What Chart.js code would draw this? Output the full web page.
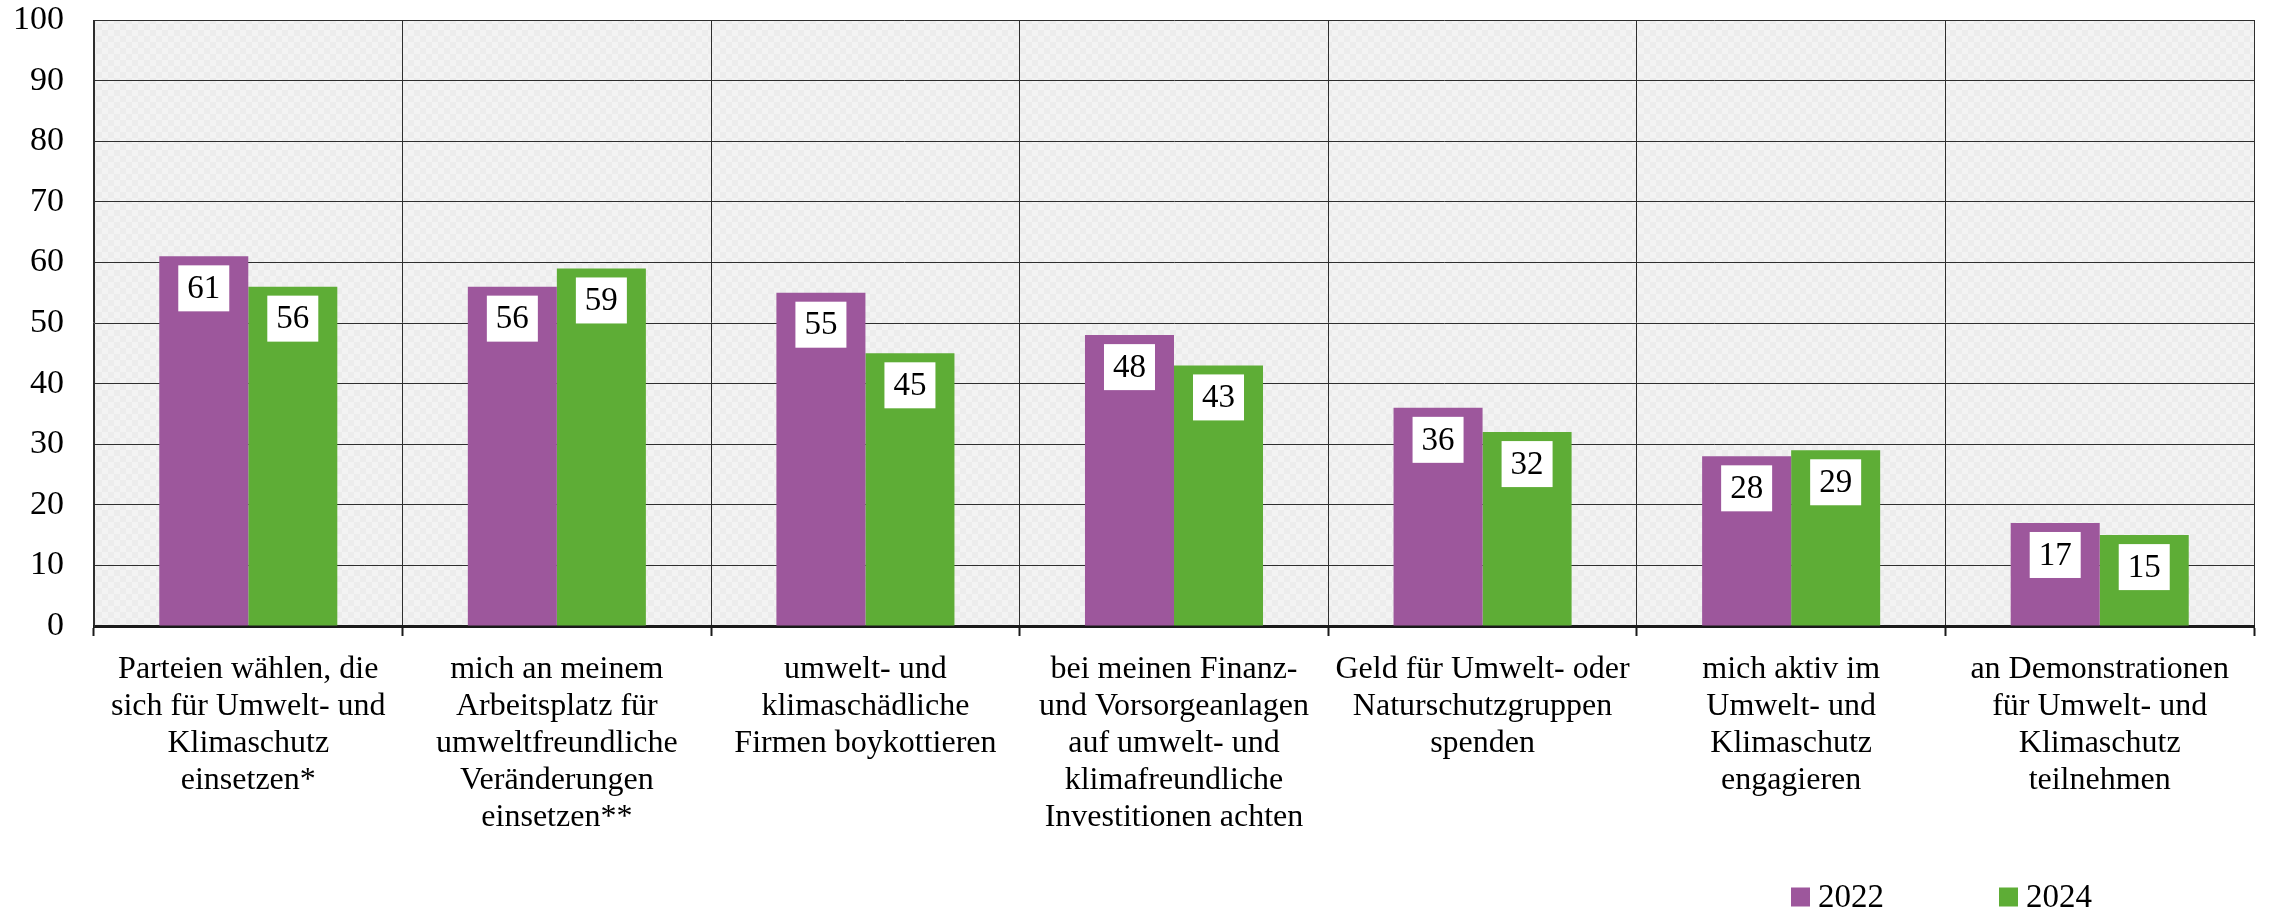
<!DOCTYPE html>
<html>
<head>
<meta charset="utf-8">
<script src="https://cdn.jsdelivr.net/npm/chart.js@4.4.0/dist/chart.umd.min.js"></script>
<style>
  html, body { margin: 0; padding: 0; background: #fff; }
  canvas { display: block; }
</style>
</head>
<body>
<canvas id="chart" width="2272" height="913"></canvas>
<script>
// categories (multi-line labels as in the original)
var categories = [
  ["Parteien wählen, die", "sich für Umwelt- und", "Klimaschutz", "einsetzen*"],
  ["mich an meinem", "Arbeitsplatz für", "umweltfreundliche", "Veränderungen", "einsetzen**"],
  ["umwelt- und", "klimaschädliche", "Firmen boykottieren"],
  ["bei meinen Finanz-", "und Vorsorgeanlagen", "auf umwelt- und", "klimafreundliche", "Investitionen achten"],
  ["Geld für Umwelt- oder", "Naturschutzgruppen", "spenden"],
  ["mich aktiv im", "Umwelt- und", "Klimaschutz", "engagieren"],
  ["an Demonstrationen", "für Umwelt- und", "Klimaschutz", "teilnehmen"]
];
var years = ["2022", "2024"];
var values2022 = [61, 56, 55, 48, 36, 28, 17];
var values2024 = [56, 59, 45, 43, 32, 29, 15];
var yTicks = [0, 10, 20, 30, 40, 50, 60, 70, 80, 90, 100];

var FONT = '"Liberation Serif", "Times New Roman", serif';
Chart.defaults.font.family = FONT;
Chart.defaults.color = "#000";

// light checkered background for the plot area
function makePattern() {
  var c = document.createElement("canvas");
  c.width = 12; c.height = 12;
  var g = c.getContext("2d");
  g.fillStyle = "#f3f3f3"; g.fillRect(0, 0, 12, 12);
  g.fillStyle = "#ececec";
  g.fillRect(0, 0, 6, 6);
  g.fillRect(6, 6, 6, 6);
  return g.createPattern(c, "repeat");
}

var bgPlugin = {
  id: "plotBg",
  beforeDraw: function(chart) {
    var a = chart.chartArea, ctx = chart.ctx;
    ctx.save();
    ctx.fillStyle = makePattern();
    ctx.fillRect(a.left, a.top, a.right - a.left, a.bottom - a.top);
    ctx.restore();
  }
};

// white value boxes at the top of every bar
var valueBoxes = {
  id: "valueBoxes",
  afterDatasetsDraw: function(chart) {
    var ctx = chart.ctx;
    ctx.save();
    ctx.font = "33px " + FONT;
    ctx.textAlign = "center";
    ctx.textBaseline = "middle";
    chart.data.datasets.forEach(function(ds, di) {
      chart.getDatasetMeta(di).data.forEach(function(bar, i) {
        var w = 51, h = 46;
        var top = bar.y + 9;
        ctx.fillStyle = "#fff";
        ctx.fillRect(bar.x - w / 2, top, w, h);
        ctx.fillStyle = "#000";
        ctx.fillText(String(ds.data[i]), bar.x, top + h / 2 + 1);
      });
    });
    ctx.restore();
  }
};

// legend in the lower right corner
var yearLegend = {
  id: "yearLegend",
  afterDraw: function(chart) {
    var ctx = chart.ctx;
    var startX = 1791, step = 208, cy = 897, box = 19;
    ctx.save();
    ctx.font = "33px " + FONT;
    ctx.textAlign = "left";
    ctx.textBaseline = "middle";
    chart.data.datasets.forEach(function(ds, i) {
      var x = startX + i * step;
      ctx.fillStyle = ds.backgroundColor;
      ctx.fillRect(x, cy - box / 2, box, box);
      ctx.fillStyle = "#000";
      ctx.fillText(ds.label, x + box + 8, cy + 1);
    });
    ctx.restore();
  }
};

var data = {
  labels: categories,
  datasets: [
    {
      label: years[0],
      data: values2022,
      backgroundColor: "#9d579c",
      borderWidth: 0,
      barPercentage: 1.0,
      categoryPercentage: 0.577
    },
    {
      label: years[1],
      data: values2024,
      backgroundColor: "#5ead36",
      borderWidth: 0,
      barPercentage: 1.0,
      categoryPercentage: 0.577
    }
  ]
};

var options = {
  responsive: false,
  animation: false,
  layout: {
    padding: { top: 20, right: 18, bottom: 62, left: 0 }
  },
  plugins: {
    legend: { display: false },
    tooltip: { enabled: false }
  },
  scales: {
    x: {
      offset: true,
      grid: {
        offset: true,
        color: "#2e2e2e",
        lineWidth: 1,
        drawTicks: true,
        tickLength: 10,
        tickColor: "#1a1a1a",
        tickWidth: 2
      },
      border: { color: "#1a1a1a", width: 3 },
      ticks: {
        autoSkip: false,
        maxRotation: 0,
        minRotation: 0,
        padding: 15,
        color: "#000",
        font: { size: 32, lineHeight: "37px" }
      }
    },
    y: {
      min: 0,
      max: 100,
      afterFit: function(scale) {
        scale.width = 94;
        scale.paddingTop = 0;
        scale.paddingBottom = 0;
      },
      afterBuildTicks: function(scale) {
        scale.ticks = yTicks.map(function(v) { return { value: v }; });
      },
      grid: {
        color: "#2e2e2e",
        lineWidth: 1,
        drawTicks: false
      },
      border: { color: "#2e2e2e", width: 1 },
      ticks: {
        padding: 30,
        color: "#000",
        font: { size: 34 }
      }
    }
  }
};

var chart = new Chart(document.getElementById("chart"), {
  type: "bar",
  data: data,
  options: options,
  plugins: [bgPlugin, valueBoxes, yearLegend]
});
</script>
</body>
</html>
